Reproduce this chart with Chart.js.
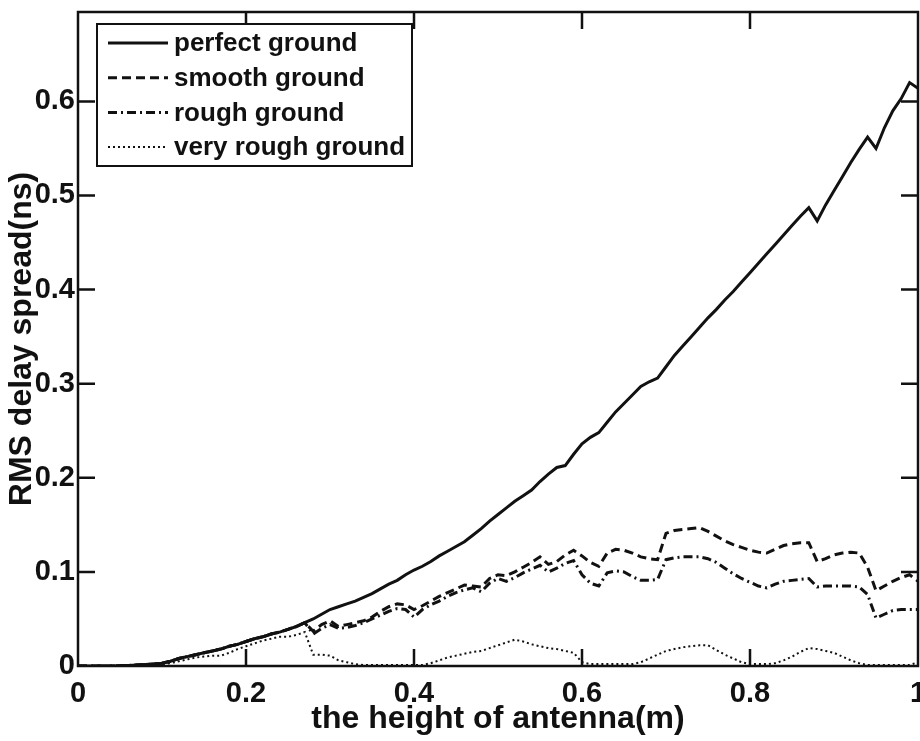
<!DOCTYPE html>
<html>
<head>
<meta charset="utf-8">
<script src="https://cdn.jsdelivr.net/npm/chart.js@4/dist/chart.umd.min.js"></script>
<style>
  html, body { margin: 0; padding: 0; background: #fff; }
  #wrap { width: 920px; height: 741px; }
</style>
</head>
<body>
<div id="wrap"><canvas id="c" width="920" height="741"></canvas></div>
<script>
// ---- data ----
const heights = [
  0.00,0.01,0.02,0.03,0.04,0.05,0.06,0.07,0.08,0.09,
  0.10,0.11,0.12,0.13,0.14,0.15,0.16,0.17,0.18,0.19,
  0.20,0.21,0.22,0.23,0.24,0.25,0.26,0.27,0.28,0.29,
  0.30,0.31,0.32,0.33,0.34,0.35,0.36,0.37,0.38,0.39,
  0.40,0.41,0.42,0.43,0.44,0.45,0.46,0.47,0.48,0.49,
  0.50,0.51,0.52,0.53,0.54,0.55,0.56,0.57,0.58,0.59,
  0.60,0.61,0.62,0.63,0.64,0.65,0.66,0.67,0.68,0.69,
  0.70,0.71,0.72,0.73,0.74,0.75,0.76,0.77,0.78,0.79,
  0.80,0.81,0.82,0.83,0.84,0.85,0.86,0.87,0.88,0.89,
  0.90,0.91,0.92,0.93,0.94,0.95,0.96,0.97,0.98,0.99,
  1.00
];
const perfectGround = [
  0,0,0,0,0,0.0003,0.0006,0.001,0.0015,0.002,
  0.003,0.005,0.008,0.010,0.012,0.014,0.016,0.018,0.021,0.023,
  0.026,0.029,0.031,0.034,0.036,0.039,0.042,0.046,0.050,0.055,
  0.060,0.063,0.066,0.069,0.073,0.077,0.082,0.087,0.091,0.097,
  0.102,0.106,0.111,0.117,0.122,0.127,0.132,0.139,0.146,0.154,
  0.161,0.168,0.175,0.181,0.187,0.196,0.204,0.211,0.213,0.225,
  0.236,0.243,0.248,0.259,0.270,0.279,0.288,0.297,0.302,0.306,
  0.318,0.330,0.340,0.350,0.360,0.370,0.379,0.389,0.398,0.408,
  0.418,0.428,0.438,0.448,0.458,0.468,0.478,0.487,0.473,0.490,
  0.505,0.520,0.535,0.549,0.562,0.550,0.572,0.590,0.603,0.620,
  0.614
];
const smoothGround = [
  0,0,0,0,0,0.0003,0.0006,0.001,0.0015,0.002,
  0.003,0.005,0.008,0.010,0.012,0.014,0.016,0.018,0.021,0.023,
  0.026,0.029,0.031,0.034,0.036,0.039,0.042,0.046,0.037,0.044,
  0.048,0.042,0.044,0.046,0.048,0.052,0.058,0.063,0.066,0.065,
  0.060,0.064,0.069,0.074,0.078,0.082,0.086,0.085,0.084,0.093,
  0.097,0.096,0.100,0.105,0.110,0.116,0.108,0.111,0.118,0.123,
  0.117,0.110,0.106,0.120,0.124,0.123,0.120,0.116,0.114,0.113,
  0.141,0.144,0.145,0.146,0.147,0.143,0.138,0.133,0.129,0.126,
  0.123,0.121,0.120,0.124,0.128,0.130,0.131,0.131,0.111,0.114,
  0.118,0.120,0.121,0.120,0.105,0.080,0.085,0.090,0.094,0.097,
  0.090
];
const roughGround = [
  0,0,0,0,0,0.0003,0.0006,0.001,0.0015,0.002,
  0.003,0.005,0.008,0.010,0.012,0.014,0.016,0.018,0.021,0.023,
  0.026,0.029,0.031,0.034,0.036,0.039,0.042,0.046,0.034,0.040,
  0.044,0.040,0.041,0.043,0.046,0.050,0.054,0.058,0.061,0.060,
  0.052,0.060,0.065,0.069,0.074,0.078,0.081,0.083,0.079,0.088,
  0.093,0.090,0.094,0.099,0.103,0.107,0.100,0.104,0.109,0.112,
  0.097,0.088,0.085,0.099,0.101,0.100,0.095,0.091,0.091,0.092,
  0.113,0.115,0.116,0.116,0.116,0.114,0.110,0.104,0.098,0.093,
  0.089,0.085,0.083,0.087,0.090,0.091,0.092,0.093,0.084,0.085,
  0.085,0.085,0.085,0.084,0.076,0.051,0.055,0.059,0.060,0.060,
  0.060
];
const veryRoughGround = [
  0,0,0,0,0,0.0003,0.0005,0.0008,0.001,0.0015,
  0.002,0.003,0.005,0.007,0.009,0.010,0.011,0.011,0.014,0.018,
  0.021,0.024,0.027,0.029,0.031,0.031,0.033,0.036,0.012,0.012,
  0.011,0.006,0.004,0.002,0.001,0.001,0.001,0.001,0.001,0.001,
  0.001,0.001,0.003,0.006,0.009,0.011,0.013,0.015,0.016,0.019,
  0.022,0.025,0.028,0.026,0.023,0.021,0.019,0.018,0.016,0.014,
  0.004,0.002,0.002,0.002,0.002,0.002,0.002,0.004,0.008,0.012,
  0.016,0.018,0.020,0.021,0.022,0.022,0.017,0.012,0.008,0.004,
  0.002,0.002,0.002,0.003,0.006,0.010,0.015,0.019,0.018,0.016,
  0.014,0.010,0.006,0.003,0.001,0.001,0.001,0.001,0.001,0.001,
  0.004
];
const seriesNames = ['perfect ground','smooth ground','rough ground','very rough ground'];
const xTicks = [0, 0.2, 0.4, 0.6, 0.8, 1];
const xTickLabels = ['0','0.2','0.4','0.6','0.8','1'];
const yTicks = [0, 0.1, 0.2, 0.3, 0.4, 0.5, 0.6];
const yTickLabels = ['0','0.1','0.2','0.3','0.4','0.5','0.6'];
const xTitle = 'the height of antenna(m)';
const yTitle = 'RMS delay spread(ns)';

// ---- styles ----
const FONT = '"Liberation Sans", Arial, Helvetica, sans-serif';
const styles = [
  { borderWidth: 3, borderDash: [] },
  { borderWidth: 3, borderDash: [9, 5] },
  { borderWidth: 3, borderDash: [9, 4, 2, 4] },
  { borderWidth: 2, borderDash: [2, 3] }
];
const allSeries = [perfectGround, smoothGround, roughGround, veryRoughGround];

const datasets = allSeries.map((vals, i) => ({
  label: seriesNames[i],
  data: heights.map((h, j) => ({ x: h, y: vals[j] })),
  borderColor: '#111',
  backgroundColor: '#111',
  borderWidth: styles[i].borderWidth,
  borderDash: styles[i].borderDash,
  pointRadius: 0,
  tension: 0,
  fill: false
}));

const framePlugin = {
  id: 'frame',
  afterDraw(chart) {
    const { ctx, chartArea: a, scales } = chart;
    ctx.save();
    ctx.strokeStyle = '#111';
    ctx.lineWidth = 2.5;
    ctx.strokeRect(a.left, a.top, a.right - a.left, a.bottom - a.top);
    const tl = 17;
    ctx.beginPath();
    xTicks.forEach(v => {
      const px = scales.x.getPixelForValue(v);
      if (Math.abs(px - a.left) < 2 || Math.abs(px - a.right) < 2) return;
      ctx.moveTo(px, a.bottom); ctx.lineTo(px, a.bottom - tl);
      ctx.moveTo(px, a.top); ctx.lineTo(px, a.top + tl);
    });
    yTicks.forEach(v => {
      const py = scales.y.getPixelForValue(v);
      if (Math.abs(py - a.bottom) < 2 || Math.abs(py - a.top) < 2) return;
      ctx.moveTo(a.left, py); ctx.lineTo(a.left + tl, py);
      ctx.moveTo(a.right, py); ctx.lineTo(a.right - tl, py);
    });
    ctx.stroke();

    // legend box
    const bx = 97, by = 24, bw = 315, bh = 142;
    ctx.fillStyle = '#fff';
    ctx.fillRect(bx, by, bw, bh);
    ctx.lineWidth = 2;
    ctx.strokeRect(bx, by, bw, bh);
    ctx.font = 'bold 26px ' + FONT;
    ctx.textBaseline = 'middle';
    ctx.textAlign = 'left';
    chart.data.datasets.forEach((ds, i) => {
      const y = by + 19 + i * 34.7;
      ctx.save();
      ctx.lineWidth = ds.borderWidth;
      ctx.setLineDash(ds.borderDash);
      ctx.strokeStyle = ds.borderColor;
      ctx.beginPath();
      ctx.moveTo(bx + 11, y);
      ctx.lineTo(bx + 71, y);
      ctx.stroke();
      ctx.restore();
      ctx.fillStyle = '#111';
      ctx.fillText(ds.label, bx + 77, y + 1);
    });
    ctx.restore();
  }
};

new Chart(document.getElementById('c'), {
  type: 'line',
  data: { datasets },
  options: {
    responsive: false,
    animation: false,
    events: [],
    layout: { padding: { top: 12, right: 2, left: 0, bottom: 0 } },
    scales: {
      x: {
        type: 'linear', min: 0, max: 1,
        grid: { display: false, drawTicks: false },
        border: { display: false },
        afterBuildTicks(s) { s.ticks = xTicks.map(v => ({ value: v })); },
        afterFit(s) { s.height = 75; s.paddingLeft = 0; s.paddingRight = 0; },
        ticks: {
          color: '#111', padding: 11,
          font: { family: FONT, size: 29, weight: 'bold' },
          callback: (v, i) => xTickLabels[i]
        },
        title: {
          display: true, text: xTitle, color: '#111',
          font: { family: FONT, size: 32, weight: 'bold', lineHeight: 1.2 },
          padding: { top: 0, bottom: 3 }
        }
      },
      y: {
        type: 'linear', min: 0, max: 0.695,
        grid: { display: false, drawTicks: false },
        border: { display: false },
        afterBuildTicks(s) { s.ticks = yTicks.map(v => ({ value: v })); },
        afterFit(s) { s.width = 78; s.paddingTop = 0; s.paddingBottom = 0; },
        ticks: {
          color: '#111', padding: 3,
          font: { family: FONT, size: 29, weight: 'bold' },
          callback: (v, i) => yTickLabels[i]
        },
        title: {
          display: true, text: yTitle, color: '#111',
          font: { family: FONT, size: 32, weight: 'bold', lineHeight: 1.2 },
          padding: { top: 3, bottom: 0 }
        }
      }
    },
    plugins: { legend: { display: false }, tooltip: { enabled: false } }
  },
  plugins: [framePlugin]
});
</script>
</body>
</html>
